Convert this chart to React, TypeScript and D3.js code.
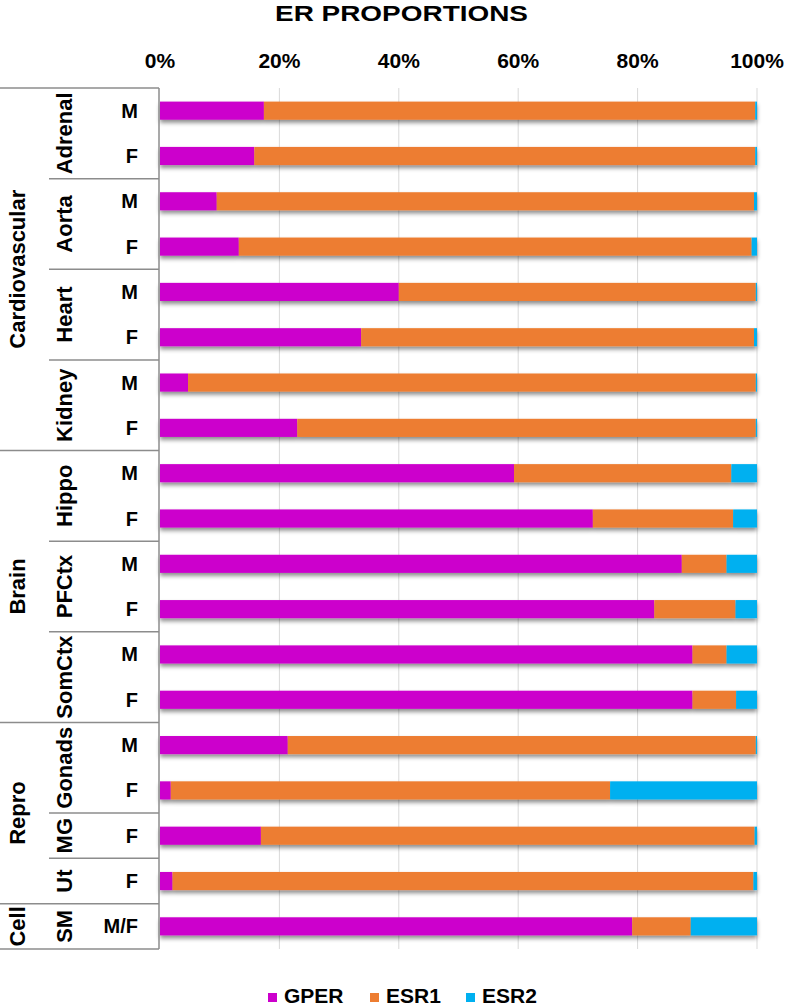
import React from "react";
import * as d3 from "d3";

const rowLabels = ["M","F","M","F","M","F","M","F","M","F","M","F","M","F","M","F","F","F","M/F"];
const organs = [
  { name: "Adrenal", start: 0, end: 2 },
  { name: "Aorta", start: 2, end: 4 },
  { name: "Heart", start: 4, end: 6 },
  { name: "Kidney", start: 6, end: 8 },
  { name: "Hippo", start: 8, end: 10 },
  { name: "PFCtx", start: 10, end: 12 },
  { name: "SomCtx", start: 12, end: 14 },
  { name: "Gonads", start: 14, end: 16 },
  { name: "MG", start: 16, end: 17 },
  { name: "Ut", start: 17, end: 18 },
  { name: "SM", start: 18, end: 19 },
];
const groups = [
  { name: "Cardiovascular", start: 0, end: 8 },
  { name: "Brain", start: 8, end: 14 },
  { name: "Repro", start: 14, end: 18 },
  { name: "Cell", start: 18, end: 19 },
];
const gper = [17.4, 15.8, 9.5, 13.2, 40.0, 33.7, 4.7, 23.0, 59.3, 72.5, 87.4, 82.8, 89.2, 89.2, 21.4, 1.8, 16.9, 2.1, 79.1];
const esr2 = [0.3, 0.3, 0.5, 0.9, 0.2, 0.5, 0.2, 0.2, 4.3, 4.0, 5.1, 3.6, 5.1, 3.5, 0.2, 24.6, 0.4, 0.6, 11.1];
const esr1 = gper.map((g, i) => +(100 - g - esr2[i]).toFixed(1));
const seriesNames = ["GPER", "ESR1", "ESR2"];
const seriesColors = ["#CC00CC", "#ED7D31", "#00B0F0"];
const xTicks = [0, 20, 40, 60, 80, 100];

const W = 787, H = 1007;
const plotLeft = 160, plotRight = 757, plotTop = 88, plotBottom = 949;
const FONT = "Arial, 'Liberation Sans', sans-serif";

export default function App() {
  const x = d3.scaleLinear().domain([0, 100]).range([plotLeft, plotRight]);
  const y = d3.scaleBand<number>().domain(d3.range(rowLabels.length)).range([plotTop, plotBottom]).paddingInner(0.6).paddingOuter(0.3);
  const step = y.step();
  const rowTop = (i: number) => plotTop + i * step;

  const table = rowLabels.map((_, i) => ({ GPER: gper[i], ESR1: esr1[i], ESR2: esr2[i], i }));
  const stack = d3.stack<any>().keys(seriesNames)(table);
  const lineColor = "#8C8C8C";

  return (
    <svg width={W} height={H} style={{ position: "absolute", left: 0, top: 0, background: "#fff" }} fontFamily={FONT}>
      <defs>
        <filter id="shadow" x="-5%" y="-50%" width="110%" height="250%">
          <feDropShadow dx="0" dy="3" stdDeviation="2" floodColor="#000" floodOpacity="0.45" />
        </filter>
      </defs>
      <rect width={W} height={H} fill="#fff" />
      <text x={401.5} y={21} textAnchor="middle" fontSize={22} fontWeight="bold" textLength={253} lengthAdjust="spacingAndGlyphs">ER PROPORTIONS</text>
      {xTicks.map((t) => (
        <text key={t} x={x(t)} y={68} textAnchor="middle" fontSize={21} fontWeight="bold">{t}%</text>
      ))}
      {xTicks.filter((t) => t > 0).map((t) => (
        <line key={t} x1={x(t)} x2={x(t)} y1={plotTop} y2={plotBottom} stroke="#D9D9D9" strokeWidth={1} />
      ))}
      <g filter="url(#shadow)">
        {stack.map((s, k) => (
          <g key={k} fill={seriesColors[k]}>
            {s.map((d, i) => (
              <rect key={i} x={x(d[0])} y={y(i)!} width={Math.max(0, x(d[1]) - x(d[0]))} height={y.bandwidth()} />
            ))}
          </g>
        ))}
      </g>
      <g stroke={lineColor} strokeWidth={1.5}>
        <line x1={0} x2={plotLeft - 1} y1={plotTop} y2={plotTop} />
        <line x1={0} x2={plotLeft - 1} y1={plotBottom} y2={plotBottom} />
        <line x1={plotLeft - 1} x2={plotLeft - 1} y1={plotTop} y2={plotBottom} />
        {groups.slice(1).map((g) => (
          <line key={g.name} x1={0} x2={plotLeft - 1} y1={rowTop(g.start)} y2={rowTop(g.start)} />
        ))}
        {organs.filter((o) => o.start > 0 && !groups.some((g) => g.start === o.start)).map((o) => (
          <line key={o.name} x1={49} x2={plotLeft - 1} y1={rowTop(o.start)} y2={rowTop(o.start)} />
        ))}
      </g>
      {rowLabels.map((l, i) => (
        <text key={i} x={138} y={y(i)! + y.bandwidth() / 2 + 7} textAnchor="end" fontSize={20} fontWeight="bold">{l}</text>
      ))}
      {organs.map((o) => (
        <text key={o.name} transform={`translate(72,${(rowTop(o.start) + rowTop(o.end)) / 2}) rotate(-90)`} textAnchor="middle" fontSize={22} fontWeight="bold">{o.name}</text>
      ))}
      {groups.map((g) => (
        <text key={g.name} transform={`translate(25,${(rowTop(g.start) + rowTop(g.end)) / 2}) rotate(-90)`} textAnchor="middle" fontSize={22} fontWeight="bold">{g.name}</text>
      ))}
      {seriesNames.map((n, k) => {
        const lx = [268, 370, 466][k];
        return (
          <g key={n}>
            <rect x={lx} y={993} width={9} height={9} fill={seriesColors[k]} />
            <text x={lx + 16} y={1003} fontSize={21} fontWeight="bold">{n}</text>
          </g>
        );
      })}
    </svg>
  );
}
